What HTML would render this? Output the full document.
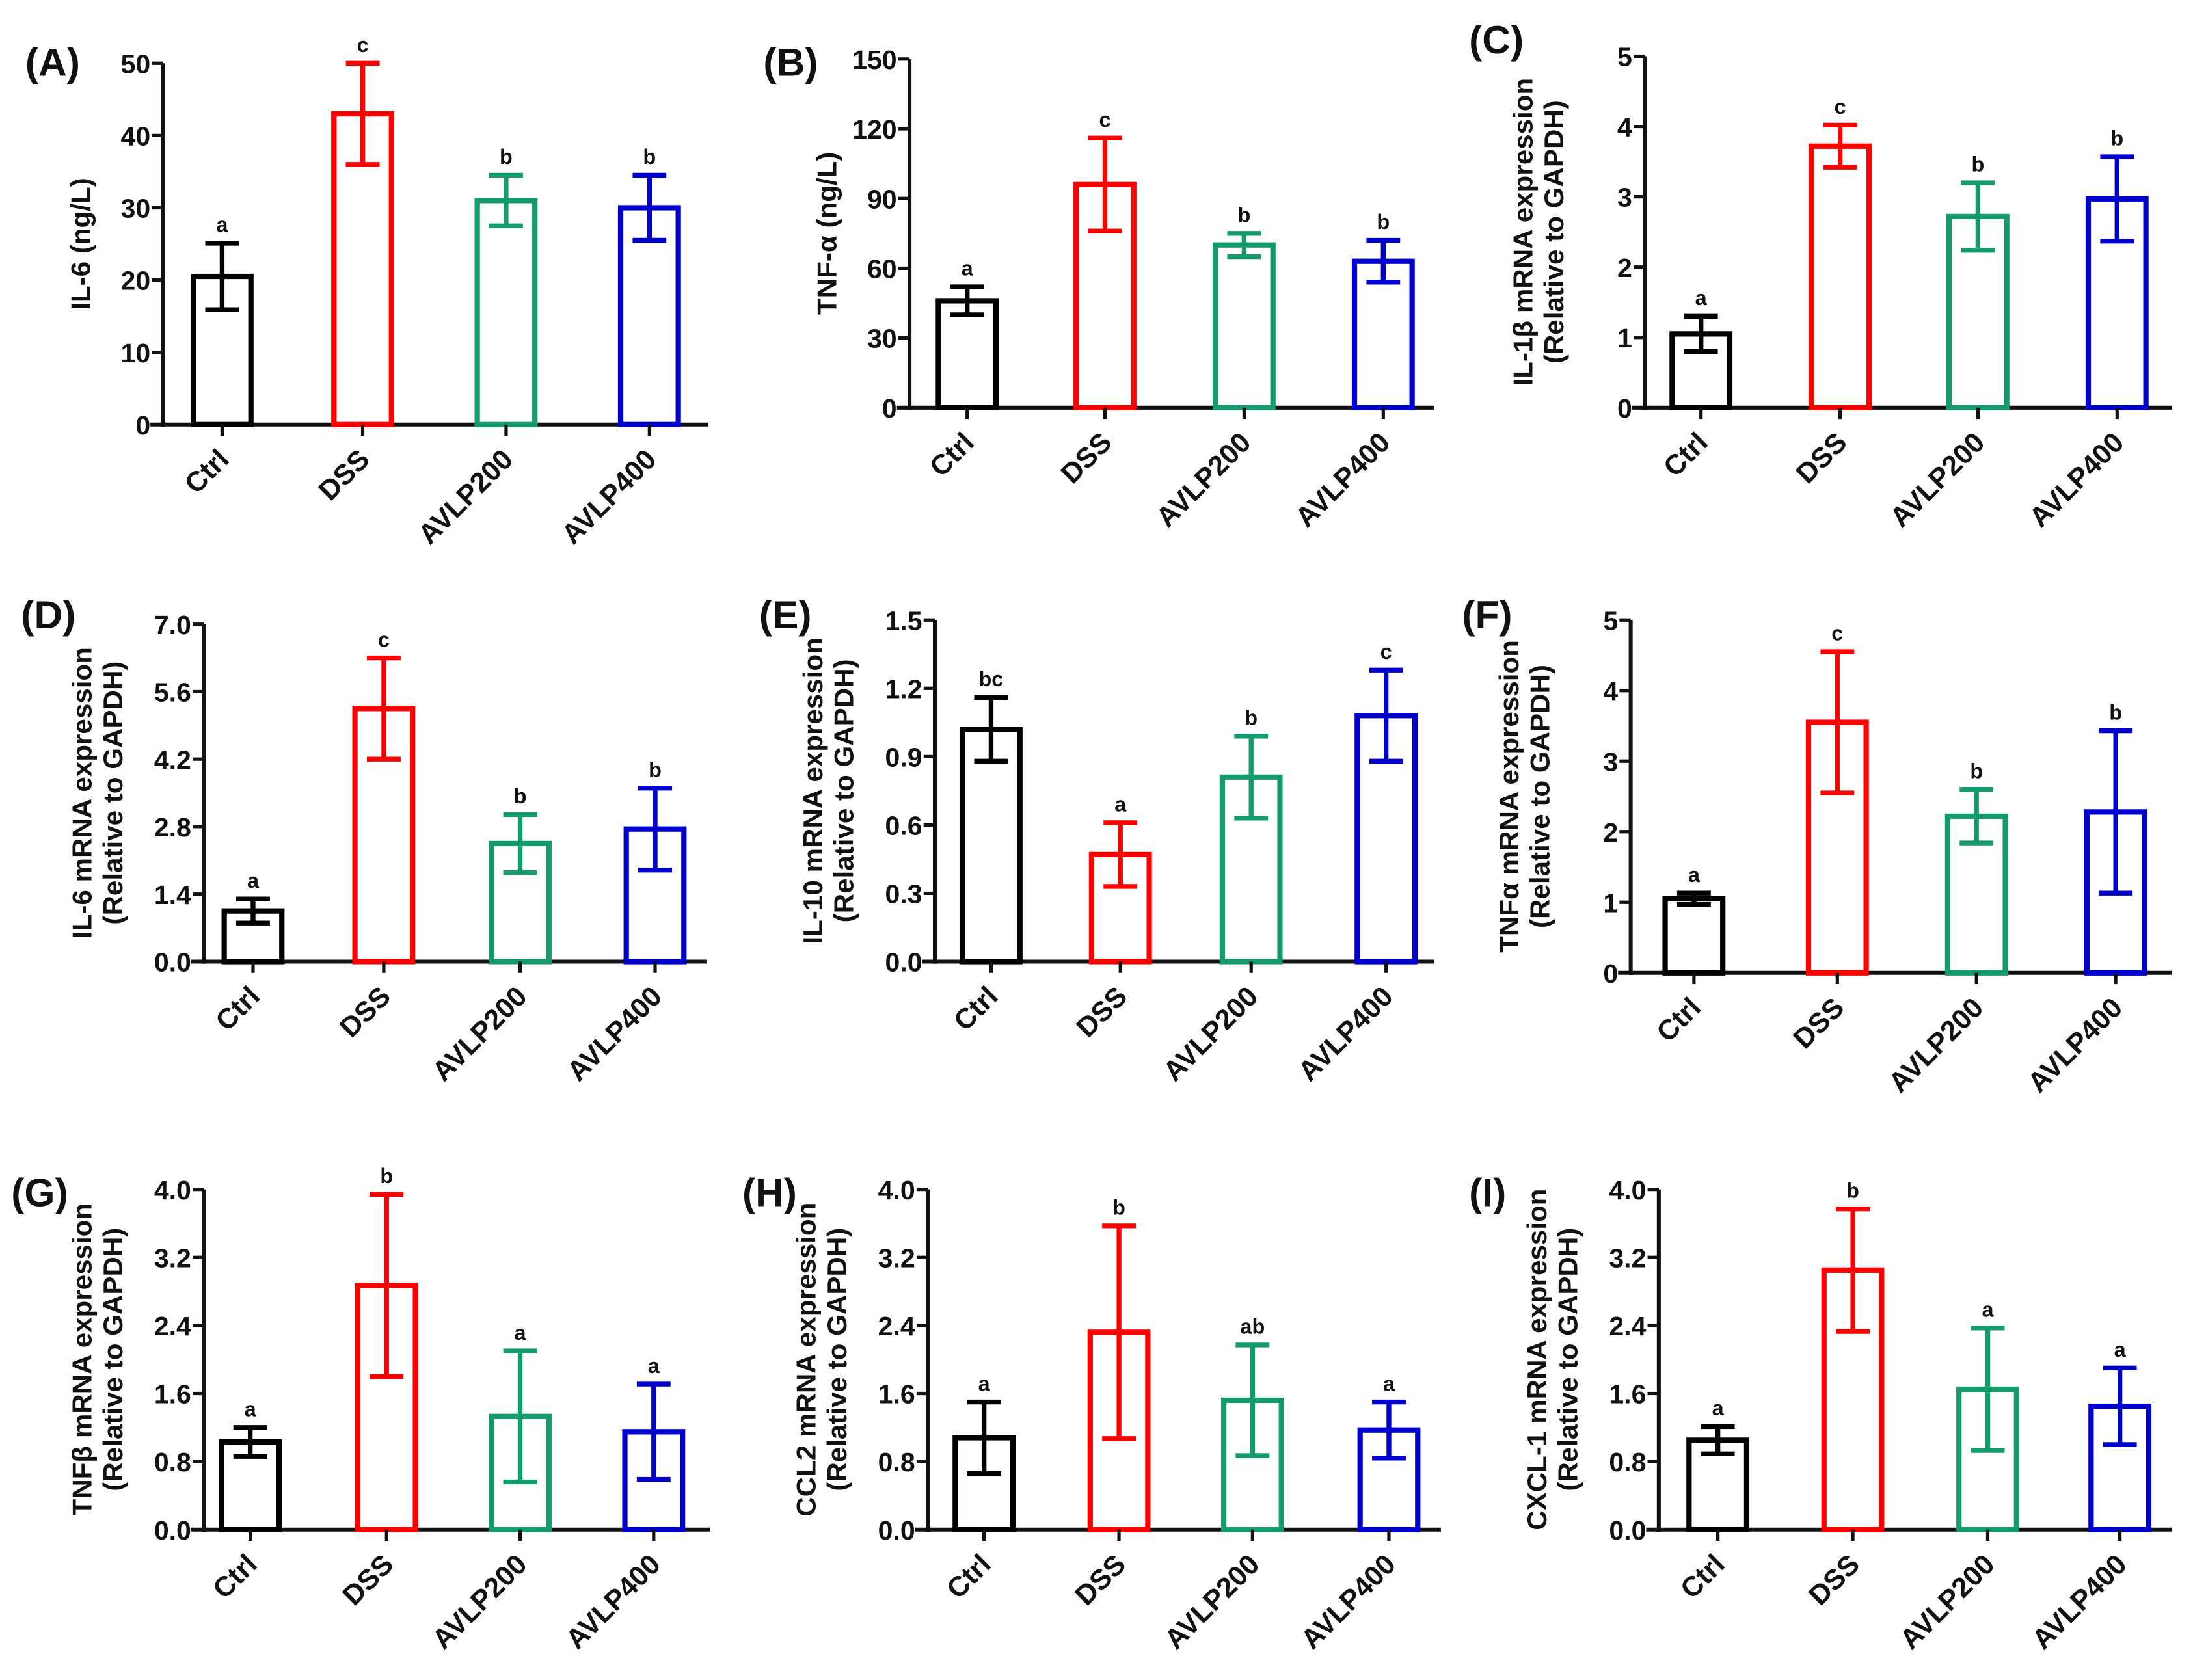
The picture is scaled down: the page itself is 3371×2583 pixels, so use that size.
<!DOCTYPE html>
<html><head><meta charset="utf-8"><style>
html,body{margin:0;padding:0;background:#fff}
svg{display:block}
text{font-family:"Liberation Sans",Arial,sans-serif;font-weight:bold;fill:#111}
</style></head>
<body>
<svg id="fig" width="3371" height="2583" viewBox="0 0 1560 1195" preserveAspectRatio="none" xmlns="http://www.w3.org/2000/svg"></svg>
<script>
const categories = ["Ctrl","DSS","AVLP200","AVLP400"];
const colors = ["#000000","#ff0000","#159a6a","#0000cc"];
const meansA=[20.5,43,31,30], errA=[4.6,7,3.5,4.5], letA=["a","c","b","b"], ticksA=[0,10,20,30,40,50];
const meansB=[46,96,70,63], errB=[6,20,5,9], letB=["a","c","b","b"], ticksB=[0,30,60,90,120,150];
const meansC=[1.05,3.72,2.72,2.97], errC=[0.25,0.3,0.48,0.6], letC=["a","c","b","b"], ticksC=[0,1,2,3,4,5];
const meansD=[1.05,5.25,2.45,2.75], errD=[0.25,1.05,0.6,0.85], letD=["a","c","b","b"], ticksD=["0.0","1.4","2.8","4.2","5.6","7.0"];
const meansE=[1.02,0.47,0.81,1.08], errE=[0.14,0.14,0.18,0.2], letE=["bc","a","b","c"], ticksE=["0.0","0.3","0.6","0.9","1.2","1.5"];
const meansF=[1.05,3.55,2.22,2.28], errF=[0.08,1.0,0.38,1.15], letF=["a","c","b","b"], ticksF=[0,1,2,3,4,5];
const meansG=[1.03,2.87,1.33,1.15], errG=[0.17,1.07,0.77,0.56], letG=["a","b","a","a"], ticksG=["0.0","0.8","1.6","2.4","3.2","4.0"];
const meansH=[1.08,2.32,1.52,1.17], errH=[0.42,1.25,0.65,0.33], letH=["a","b","ab","a"], ticksH=["0.0","0.8","1.6","2.4","3.2","4.0"];
const meansI=[1.05,3.05,1.65,1.45], errI=[0.16,0.72,0.72,0.45], letI=["a","b","a","a"], ticksI=["0.0","0.8","1.6","2.4","3.2","4.0"];

const NS="http://www.w3.org/2000/svg";
const svg=document.getElementById('fig');
function mk(tag,attrs,parent,txt){const e=document.createElementNS(NS,tag);for(const k in attrs)e.setAttribute(k,attrs[k]);if(txt!==undefined)e.textContent=txt;(parent||svg).appendChild(e);return e;}

const panels=[
 {id:"A",lx:18,ly:54,ax:116,top:45,zero:302,right:504,cx:[158,258,360,462],m:meansA,e:errA,l:letA,t:ticksA,y:["IL-6 (ng/L)"]},
 {id:"B",lx:543,ly:54,ax:647,top:42,zero:290,right:1020,cx:[688,786,885,984],m:meansB,e:errB,l:letB,t:ticksB,y:["TNF-α (ng/L)"]},
 {id:"C",lx:1045,ly:38,ax:1170,top:40,zero:290,right:1545,cx:[1210,1309,1407,1506],m:meansC,e:errC,l:letC,t:ticksC,y:["IL-1β mRNA expression","(Relative to GAPDH)"]},
 {id:"D",lx:15,ly:447,ax:145,top:444,zero:684,right:503,cx:[180,273,370,466],m:meansD,e:errD,l:letD,t:ticksD,y:["IL-6 mRNA expression","(Relative to GAPDH)"]},
 {id:"E",lx:540,ly:447,ax:665,top:441,zero:684,right:1020,cx:[705,797,890,986],m:meansE,e:errE,l:letE,t:ticksE,y:["IL-10 mRNA expression","(Relative to GAPDH)"]},
 {id:"F",lx:1040,ly:447,ax:1160,top:441,zero:692,right:1545,cx:[1205,1307,1406,1505],m:meansF,e:errF,l:letF,t:ticksF,y:["TNFα mRNA expression","(Relative to GAPDH)"]},
 {id:"G",lx:8,ly:858,ax:145,top:846,zero:1088,right:505,cx:[178,275,370,465],m:meansG,e:errG,l:letG,t:ticksG,y:["TNFβ mRNA expression","(Relative to GAPDH)"]},
 {id:"H",lx:528,ly:858,ax:660,top:846,zero:1088,right:1025,cx:[700,796,891,988],m:meansH,e:errH,l:letH,t:ticksH,y:["CCL2 mRNA expression","(Relative to GAPDH)"]},
 {id:"I",lx:1045,ly:858,ax:1180,top:846,zero:1088,right:1545,cx:[1222,1318,1414,1508],m:meansI,e:errI,l:letI,t:ticksI,y:["CXCL-1 mRNA expression","(Relative to GAPDH)"]}
];

panels.forEach(p=>{
  const g=mk('g',{});
  
  
  const maxV=parseFloat(p.t[p.t.length-1]);
  const yS=v=>p.zero-(v/maxV)*(p.zero-p.top);
  const lab=mk('text',{x:p.lx,y:p.ly,'font-size':28},g,'('+p.id+')');
  
  
  const ya=mk('line',{x1:p.ax,y1:p.top,x2:p.ax,y2:p.zero+1.5,stroke:'#111','stroke-width':2.8},g);
  
  
  const xa=mk('line',{x1:p.ax-9,y1:p.zero,x2:p.right,y2:p.zero,stroke:'#111','stroke-width':2.8},g);
  
  
  p.t.forEach(tv=>{
    const y=yS(parseFloat(tv));
    mk('line',{x1:p.ax-8,y1:y,x2:p.ax,y2:y,stroke:'#111','stroke-width':2.4},g);
    const tl=mk('text',{x:p.ax-9,y:y+7,'font-size':19,'text-anchor':'end'},g,String(tv));
    
    
  });
  const midY=(p.top+p.zero)/2;
  const xs=p.y.length===1?[p.ax-52]:[p.ax-80,p.ax-58];
  p.y.forEach((s,i)=>{
    const t=mk('text',{x:xs[i],y:midY,'font-size':19.5,'text-anchor':'middle',transform:`rotate(-90 ${xs[i]} ${midY})`},g,s);
    
    
  });
  const bw=41;
  categories.forEach((c,i)=>{
    const cx=p.cx[i], v=p.m[i], er=p.e[i], col=colors[i];
    const yt=yS(v);
    const b=mk('rect',{x:cx-bw/2,y:yt,width:bw,height:p.zero-yt,fill:'none',stroke:col,'stroke-width':3.8},g);
    
    
    const yh=yS(v+er), yl=yS(v-er);
    const eb=mk('path',{d:`M${cx},${yh}V${yl}M${cx-12},${yh}H${cx+12}M${cx-12},${yl}H${cx+12}`,stroke:col,'stroke-width':3.4,fill:'none'},g);
    
    
    const lt=mk('text',{x:cx,y:yh-8,'font-size':15,'text-anchor':'middle'},g,p.l[i]);
    
    
    mk('line',{x1:cx,y1:p.zero,x2:cx,y2:p.zero+8,stroke:'#111','stroke-width':2.4},g);
    const ty=p.zero+26;
    const cl=mk('text',{x:cx+6,y:ty,'font-size':20,'text-anchor':'end',transform:`rotate(-45 ${cx+6} ${ty})`},g,c);
    
    
  });
});
</script>
</body></html>
